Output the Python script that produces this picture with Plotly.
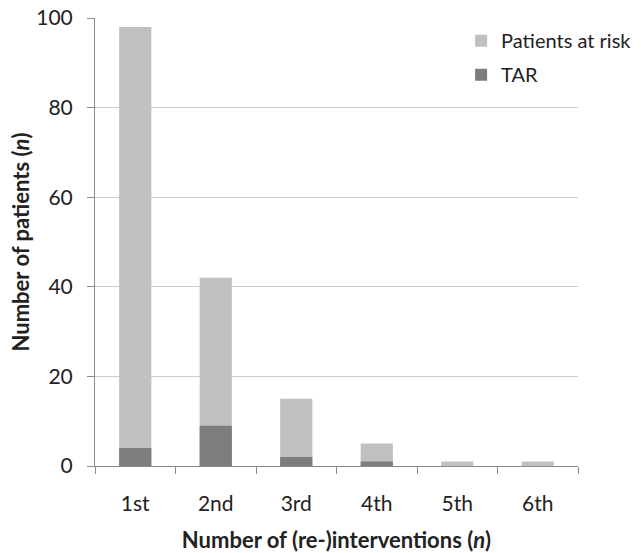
import plotly.graph_objects as go

categories = ["1st", "2nd", "3rd", "4th", "5th", "6th"]
at_risk = [98, 42, 15, 5, 1, 1]
tar = [4, 9, 2, 1, 0, 0]
y_ticks = [0, 20, 40, 60, 80, 100]

font_family = "Lato, Open Sans, sans-serif"

fig = go.Figure()
fig.add_trace(go.Bar(x=categories, y=at_risk, name="Patients at risk", legendgroup="a",
                     marker=dict(color="#c0c0c0", line=dict(width=0)), width=0.4))
fig.add_trace(go.Bar(x=categories, y=tar, name="TAR", legendgroup="b",
                     marker=dict(color="#7d7d7d", line=dict(width=0)), width=0.4))

fig.update_layout(
    width=641, height=553,
    barmode="overlay",
    plot_bgcolor="white", paper_bgcolor="white",
    margin=dict(l=95, r=63, t=18, b=87, autoexpand=False),
    font=dict(family=font_family, size=21, color="#222"),
    legend=dict(x=0.758, y=0.993, xanchor="left", yanchor="top",
                bgcolor="rgba(0,0,0,0)", font=dict(size=20),
                itemwidth=30, traceorder="grouped", tracegroupgap=5),
    showlegend=True,
)
fig.update_xaxes(
    automargin=False,
    showline=True, linecolor="#8c8c8c", linewidth=1,
    ticks="outside", tickson="boundaries", ticklen=7, tickcolor="#8c8c8c",
    ticklabelstandoff=19,
    showgrid=False,
    title=dict(text="<b>Number of (re-)interventions (<i>n</i>)</b>", font=dict(size=22), standoff=20),
    tickfont=dict(size=21),
)
fig.update_yaxes(
    automargin=False,
    range=[0, 100], tickvals=y_ticks,
    showline=True, linecolor="#8c8c8c", linewidth=1,
    ticks="outside", ticklen=7, tickcolor="#8c8c8c",
    ticklabelstandoff=10,
    showgrid=True, gridcolor="#cccccc", gridwidth=1,
    zeroline=False,
    title=dict(text="<b>Number of patients (<i>n</i>)</b>", font=dict(size=22), standoff=0),
    tickfont=dict(size=21),
)

fig.write_html("out.html", config={"displayModeBar": False},
               post_script="document.body.style.margin='0';")
